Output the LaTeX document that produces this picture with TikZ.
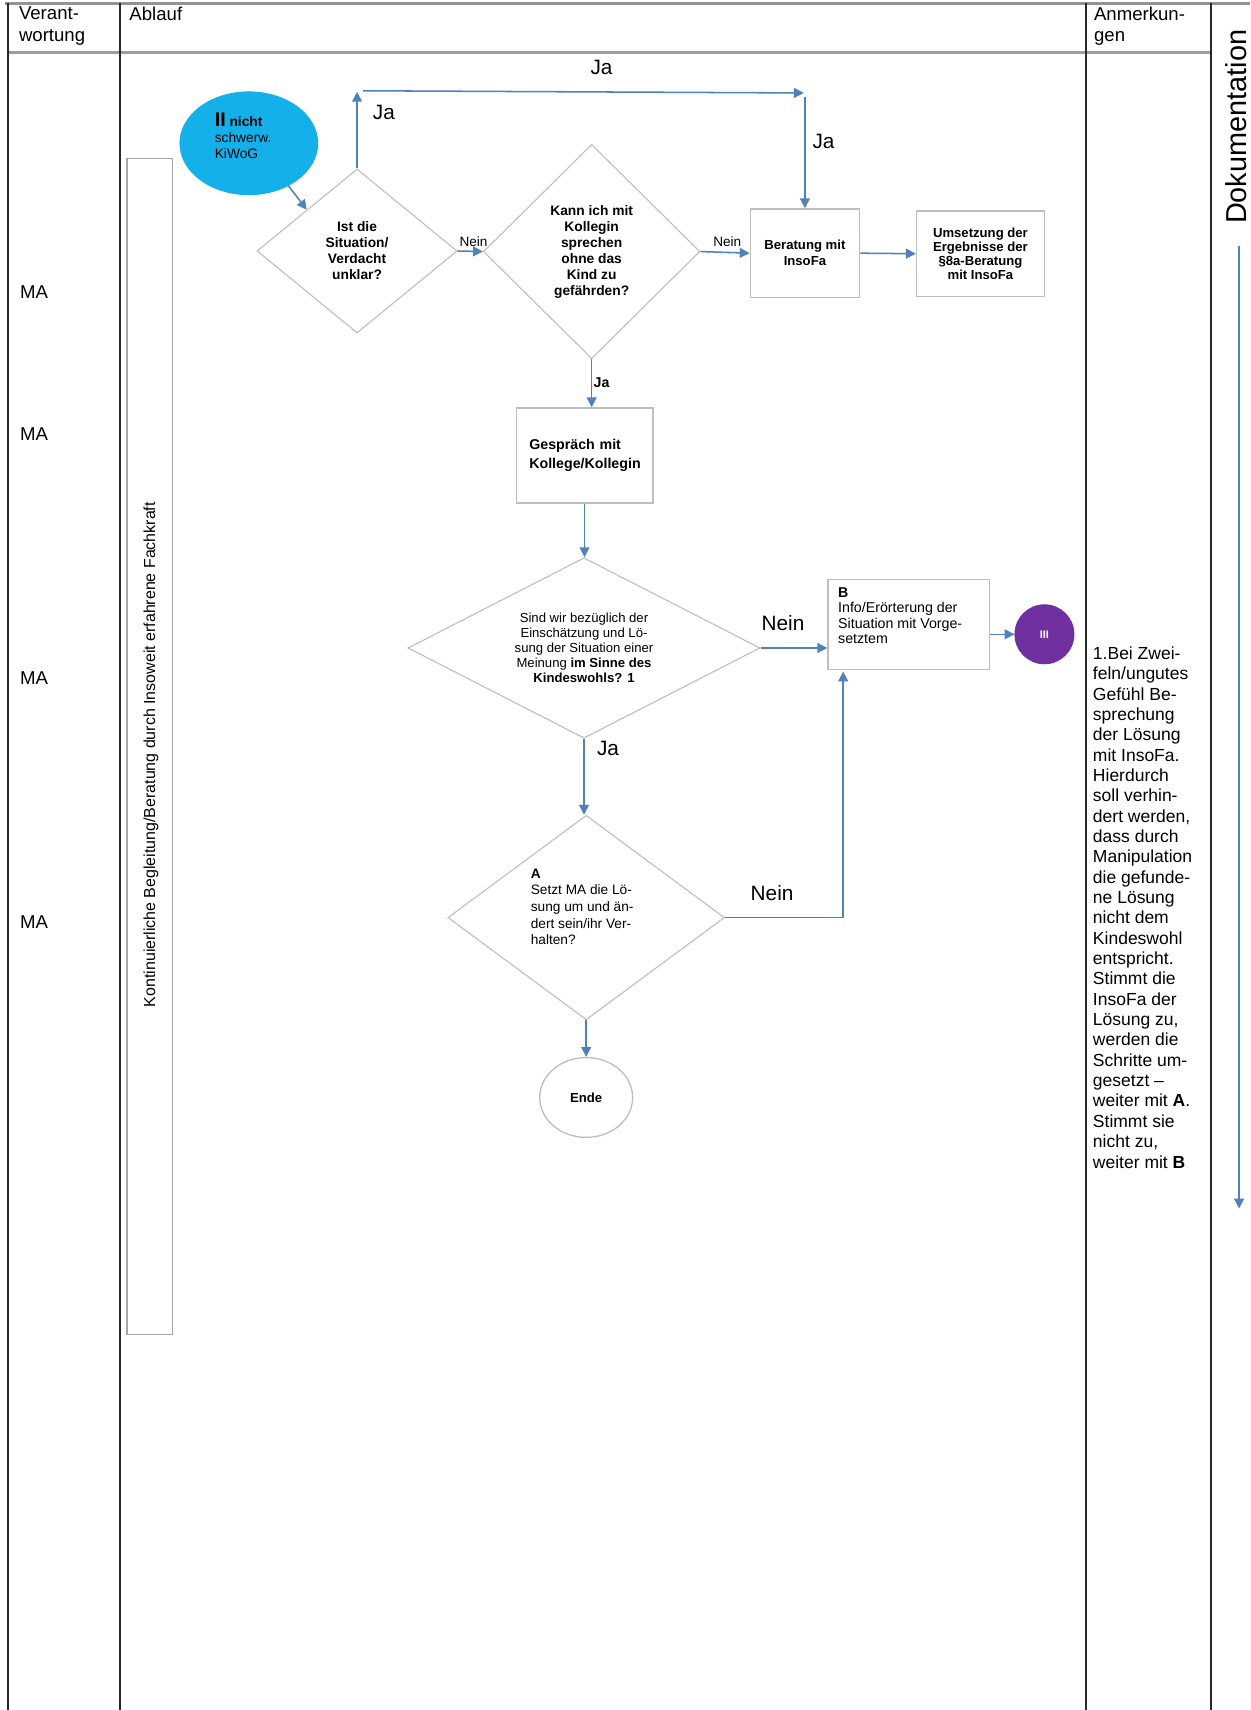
\documentclass[tikz,border=0pt]{standalone}
\usepackage{fontspec}
\setmainfont{Liberation Sans}
\usetikzlibrary{shapes.geometric,arrows.meta}
\definecolor{arrowblue}{RGB}{79,129,189}
\definecolor{shapegray}{RGB}{190,190,190}
\definecolor{ovalblue}{RGB}{20,176,234}
\definecolor{iiipurple}{RGB}{112,48,160}
\definecolor{tableline}{RGB}{40,40,40}
\begin{document}
\begin{tikzpicture}[x=0.5pt,y=-0.5pt,
  arr/.style={draw=arrowblue,line width=0.7pt,-{Triangle[length=4.5pt,width=4.5pt]}},
  dia/.style={diamond,draw=shapegray,line width=0.5pt,inner sep=0pt},
  box/.style={rectangle,draw=shapegray,line width=0.6pt,inner sep=0pt},
  txt/.style={inner sep=0pt,text=black},
  biglbl/.style={inner sep=0pt,font=\fontsize{9.5}{11}\selectfont},
  smalllbl/.style={inner sep=0pt,font=\fontsize{6.2}{7}\selectfont},
  tline/.style={draw=tableline,line width=1pt},
  hdr/.style={inner sep=0pt,anchor=north west,align=left,font=\fontsize{8.5}{9.8}\selectfont},
  malbl/.style={inner sep=0pt,anchor=west,font=\fontsize{8.5}{10}\selectfont},
]
\fill[white] (0,0) rectangle (1143,1563.6);
\useasboundingbox (0,0) rectangle (1143,1563.6);

% table
\draw[draw=gray!85,line width=1.2pt] (5,3) -- (1143,3);
\draw[draw=gray!75,line width=1pt] (7,48) -- (1107,48);
\draw[tline] (7,3) -- (7,1563.6);
\draw[tline] (110,3) -- (110,1563.6);
\draw[tline] (993,3) -- (993,1563.6);
\draw[tline] (1107,3) -- (1107,1563.6);

\node[hdr] (hv) at (17,6) {Verant-\\wortung};
\node[hdr] (ha) at (118,6) {Ablauf};
\node[hdr] (hn) at (1000,6) {Anmerkun-\\gen};

\node[malbl] (ma1) at (18,267) {MA};
\node[malbl] (ma2) at (18,397) {MA};
\node[malbl] (ma3) at (18,620) {MA};
\node[malbl] (ma4) at (18,843) {MA};

% Dokumentation
\node[rotate=90,inner sep=0pt,font=\fontsize{13.2}{15}\selectfont] (dok) at (1130,116) {Dokumentation};
\coordinate (dokS) at (1133,225);
\coordinate (dokE) at (1133,1105);
\draw[arr] (dokS) -- (dokE);

% side box
\node[draw=gray!70,line width=0.6pt,minimum width=21pt,minimum height=537.5pt,inner sep=0pt] (side) at (137,682.5) {};
\node[rotate=90,inner sep=0pt,font=\fontsize{7.3}{8}\selectfont] (sidet) at (138,690) {Kontinuierliche Begleitung/Beratung durch Insoweit erfahrene Fachkraft};

% flow nodes
\node[ellipse,fill=ovalblue,draw=ovalblue,minimum width=63pt,minimum height=47pt,inner sep=0pt] (oval) at (227.5,131) {};
\node[txt,anchor=north west,align=left,font=\fontsize{6.3}{7.2}\selectfont] (ovalt) at (196,103) {{\bfseries\fontsize{9}{9}\selectfont II} {\bfseries nicht}\\schwerw.\\KiWoG};

\node[dia,minimum width=91.5pt,minimum height=75pt] (d1) at (326.5,229.5) {};
\node[txt,align=center,font=\bfseries\fontsize{6.3}{7.4}\selectfont] (d1t) at (326.5,229) {Ist die\\Situation/\\Verdacht\\unklar?};

\node[dia,minimum width=99pt,minimum height=98pt] (d2) at (541,230) {};
\node[txt,align=center,font=\bfseries\fontsize{6.3}{7.3}\selectfont] (d2t) at (541,230.5) {Kann ich mit\\Kollegin\\sprechen\\ohne das\\Kind zu\\gefährden?};

\node[box,minimum width=50pt,minimum height=40.5pt,align=center,font=\bfseries\fontsize{6}{7.2}\selectfont] (ber) at (736,231.5) {Beratung mit\\InsoFa};

\node[box,minimum width=58.5pt,minimum height=39pt,align=center,font=\bfseries\fontsize{6}{6.5}\selectfont] (ums) at (896.5,232) {Umsetzung der\\Ergebnisse der\\§8a-Beratung\\mit InsoFa};

\node[box,minimum width=62.5pt,minimum height=43.5pt,inner xsep=6pt,text width=50.5pt,align=left,font=\bfseries\fontsize{6.5}{8.5}\selectfont] (ges) at (534.5,416.5) {Gespräch mit\\Kollege/Kollegin};

\node[dia,minimum width=161pt,minimum height=82.5pt] (d3) at (534,592.5) {};
\node[txt,align=center,font=\fontsize{6}{6.9}\selectfont] (d3t) at (534,592.5) {Sind wir bezüglich der\\Einschätzung und Lö-\\sung der Situation einer\\Meinung \textbf{im Sinne des}\\\textbf{Kindeswohls? 1}};

\node[box,minimum width=74pt,minimum height=41pt] (bnode) at (831,571) {};
\node[txt,anchor=north west,align=left,font=\fontsize{6.5}{7}\selectfont] (bnodet) at (766,537) {\textbf{B}\\Info/Erörterung der\\Situation mit Vorge-\\setztem};

\node[circle,fill=iiipurple,draw=iiipurple,minimum size=27pt,inner sep=0pt,text=white,font=\bfseries\fontsize{5}{5}\selectfont] (iii) at (955,580) {III};

\node[dia,minimum width=126.5pt,minimum height=93.5pt] (d4) at (536,839) {};
\node[txt,anchor=north west,align=left,font=\fontsize{6.25}{7.6}\selectfont] (d4t) at (485,794) {\textbf{A}\\Setzt MA die Lö-\\sung um und än-\\dert sein/ihr Ver-\\halten?};

\node[ellipse,draw=shapegray,line width=0.6pt,minimum width=42.5pt,minimum height=36.5pt,inner sep=0pt,font=\bfseries\fontsize{6}{7}\selectfont] (ende) at (536,1003.5) {Ende};

% Anmerkungen
\node[txt,anchor=north west,align=left,font=\fontsize{8}{9.3}\selectfont] (anm) at (999,591) {1.Bei Zwei-\\feln/ungutes\\Gefühl Be-\\sprechung\\der Lösung\\mit InsoFa.\\Hierdurch\\soll verhin-\\dert werden,\\dass durch\\Manipulation\\die gefunde-\\ne Lösung\\nicht dem\\Kindeswohl\\entspricht.\\Stimmt die\\InsoFa der\\Lösung zu,\\werden die\\Schritte um-\\gesetzt –\\weiter mit \textbf{A}.\\Stimmt sie\\nicht zu,\\weiter mit \textbf{B}};

% connectors
\draw[arr] (oval.-47) -- (d1.north west);
\coordinate (up1) at (326.5,84);
\draw[arr] (d1.north) -- (up1);
\coordinate (h1) at (332,83);
\coordinate (h2) at (735,85);
\draw[arr] (h1) -- (h2);
\coordinate (v1) at (736,89);
\draw[arr] (v1) -- (ber.north);
\node[biglbl] (ja1) at (351,103) {Ja};
\node[biglbl] (ja2) at (550,62) {Ja};
\node[biglbl] (ja3) at (753,129) {Ja};

\draw[arr] (d1.east) -- (d2.west);
\node[smalllbl] (nein1) at (433,221) {Nein};
\draw[arr] (d2.east) -- (ber.west);
\node[smalllbl] (nein2) at (665,221) {Nein};
\draw[arr] (ber.east) -- (ums.west);

\draw[arr] (d2.south) -- (d2.south |- ges.north);
\node[inner sep=0pt,font=\bfseries\fontsize{6.5}{7}\selectfont] (ja4) at (550,350) {Ja};
\draw[arr] (ges.south) -- (ges.south |- d3.north);

\draw[arr] (d3.east) -- (d3.east -| bnode.west);
\node[biglbl] (nein3) at (716,570) {Nein};
\draw[arr] (iii.west -| bnode.east) -- (iii.west);

\draw[arr] (d3.south) -- (d3.south |- d4.north);
\node[biglbl] (ja5) at (556,684) {Ja};

\coordinate (bin) at (771,614);
\draw[arr] (d4.east) -| (bin);
\node[biglbl] (nein4) at (706,817) {Nein};

\draw[arr] (d4.south) -- (ende.north);
\end{tikzpicture}
\end{document}
